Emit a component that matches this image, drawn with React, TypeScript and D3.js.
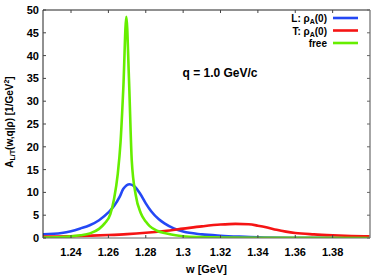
import React, { useEffect, useRef } from 'react';
import * as d3 from 'd3';

// energy points (GeV) and spectral function values (1/GeV^2)
const wBlue = [1.225, 1.235, 1.24, 1.245, 1.25, 1.255, 1.26, 1.263, 1.266, 1.268, 1.2714, 1.274, 1.277, 1.28, 1.283, 1.287, 1.29, 1.295, 1.3, 1.31, 1.32, 1.33, 1.34, 1.36, 1.38, 1.4];
const aBlue = [0.8, 1.1, 1.5, 2.1, 2.8, 3.9, 5.6, 7.0, 9.0, 10.8, 11.8, 11.3, 9.7, 7.6, 5.8, 4.1, 3.2, 2.1, 1.4, 0.8, 0.5, 0.3, 0.15, 0.05, 0.02, 0.0];

const wRed = [1.225, 1.25, 1.26, 1.27, 1.28, 1.29, 1.3, 1.31, 1.32, 1.328, 1.335, 1.34, 1.345, 1.35, 1.355, 1.36, 1.37, 1.38, 1.39, 1.4];
const aRed = [0.3, 0.5, 0.65, 0.85, 1.15, 1.55, 2.05, 2.55, 2.95, 3.1, 3.0, 2.7, 2.3, 1.8, 1.4, 1.1, 0.8, 0.6, 0.45, 0.35];

const wGreen = [1.225, 1.235, 1.24, 1.245, 1.25, 1.255, 1.258, 1.261, 1.263, 1.265, 1.2665, 1.268, 1.2696, 1.271, 1.2725, 1.2746, 1.2773, 1.28, 1.2821, 1.286, 1.2912, 1.296, 1.3, 1.31, 1.32, 1.34, 1.4];
const aGreen = [0.1, 0.2, 0.35, 0.6, 1.0, 2.0, 3.2, 5.2, 8.5, 14, 21, 33, 48.5, 35, 17, 9.5, 5.5, 3.6, 2.6, 1.6, 1.0, 0.6, 0.4, 0.2, 0.1, 0.05, 0.0];

const xTicks = [1.24, 1.26, 1.28, 1.3, 1.32, 1.34, 1.36, 1.38];
const yTicks = [0, 5, 10, 15, 20, 25, 30, 35, 40, 45, 50];

const series = [
  { key: 'L', w: wBlue, a: aBlue, color: '#2448f5' },
  { key: 'T', w: wRed, a: aRed, color: '#f51414' },
  { key: 'free', w: wGreen, a: aGreen, color: '#66ee00' },
];

const W = 382;
const H = 278;
const m = { left: 43, right: 12, top: 10, bottom: 40 };

export default function App() {
  const ref = useRef<SVGSVGElement | null>(null);

  useEffect(() => {
    const svg = d3.select(ref.current);
    svg.selectAll('*').remove();
    const font = 'Arial, "Liberation Sans", sans-serif';

    const x = d3.scaleLinear().domain([1.225, 1.4]).range([m.left, W - m.right]);
    const y = d3.scaleLinear().domain([0, 50]).range([H - m.bottom, m.top]);
    const [x0, x1] = x.range();
    const [y0, y1] = y.range();

    // clip curves to plot area
    svg.append('clipPath').attr('id', 'plot')
      .append('rect').attr('x', x0).attr('y', y1).attr('width', x1 - x0).attr('height', y0 - y1);

    const line = d3.line<[number, number]>()
      .x(d => x(d[0]))
      .y(d => y(d[1]))
      .curve(d3.curveMonotoneX);

    const g = svg.append('g').attr('clip-path', 'url(#plot)');
    series.forEach(s => {
      g.append('path')
        .attr('d', line(s.w.map((w, i) => [w, s.a[i]] as [number, number])))
        .attr('fill', 'none')
        .attr('stroke', s.color)
        .attr('stroke-width', 2.6)
        .attr('stroke-linejoin', 'round');
    });

    // frame
    svg.append('line').attr('x1', x0).attr('x2', x1).attr('y1', y1).attr('y2', y1).attr('stroke', '#222');
    svg.append('line').attr('x1', x0).attr('x2', x0).attr('y1', y1).attr('y2', y0).attr('stroke', '#222');
    svg.append('line').attr('x1', x1).attr('x2', x1).attr('y1', y1).attr('y2', y0).attr('stroke', '#888').attr('stroke-width', 1.5);
    svg.append('line').attr('x1', x0).attr('x2', x1).attr('y1', y0).attr('y2', y0).attr('stroke', '#666');

    // ticks (inward)
    xTicks.forEach(t => {
      svg.append('line').attr('x1', x(t)).attr('x2', x(t)).attr('y1', y0).attr('y2', y0 - 3).attr('stroke', '#444');
      svg.append('line').attr('x1', x(t)).attr('x2', x(t)).attr('y1', y1).attr('y2', y1 + 3).attr('stroke', '#444');
      svg.append('text')
        .attr('x', x(t)).attr('y', y0 + 18)
        .attr('text-anchor', 'middle')
        .attr('font-family', font).attr('font-weight', 'bold').attr('font-size', 11)
        .text(String(t));
    });
    yTicks.forEach(t => {
      svg.append('line').attr('x1', x0).attr('x2', x0 + 3).attr('y1', y(t)).attr('y2', y(t)).attr('stroke', '#444');
      svg.append('line').attr('x1', x1).attr('x2', x1 - 3).attr('y1', y(t)).attr('y2', y(t)).attr('stroke', '#666');
      svg.append('text')
        .attr('x', x0 - 4).attr('y', y(t) + 4)
        .attr('text-anchor', 'end')
        .attr('font-family', font).attr('font-weight', 'bold').attr('font-size', 11)
        .text(String(t));
    });

    // axis titles
    svg.append('text')
      .attr('x', (x0 + x1) / 2).attr('y', H - 5)
      .attr('text-anchor', 'middle')
      .attr('font-family', font).attr('font-weight', 'bold').attr('font-size', 11)
      .text('w [GeV]');

    const yl = svg.append('text')
      .attr('transform', `translate(13, ${(y0 + y1) / 2 - 2}) rotate(-90)`)
      .attr('text-anchor', 'middle')
      .attr('font-family', font).attr('font-weight', 'bold').attr('font-size', 10);
    yl.append('tspan').text('A');
    yl.append('tspan').attr('font-size', 7).attr('dy', 2).text('L/T');
    yl.append('tspan').attr('dy', -2).text('(w,q|ρ) [1/GeV');
    yl.append('tspan').attr('font-size', 7).attr('dy', -4).text('2');
    yl.append('tspan').attr('dy', 4).text(']');

    // annotation
    svg.append('text')
      .attr('x', 220).attr('y', 77)
      .attr('text-anchor', 'middle')
      .attr('font-family', font).attr('font-weight', 'bold').attr('font-size', 12)
      .text('q = 1.0 GeV/c');

    // legend
    const legendLabels = [
      ['L: ρ', 'A', '(0)'],
      ['T: ρ', 'A', '(0)'],
      ['free', '', ''],
    ];
    series.forEach((s, i) => {
      const ly = 18 + i * 12.5;
      const t = svg.append('text')
        .attr('x', 327).attr('y', ly + 4)
        .attr('text-anchor', 'end')
        .attr('font-family', font).attr('font-weight', 'bold').attr('font-size', 10);
      const [a, sub, b] = legendLabels[i];
      t.append('tspan').text(a);
      if (sub) {
        t.append('tspan').attr('font-size', 7).attr('dy', 2).text(sub);
        t.append('tspan').attr('dy', -2).text(b);
      }
      svg.append('line')
        .attr('x1', 333).attr('x2', 358).attr('y1', ly).attr('y2', ly)
        .attr('stroke', s.color).attr('stroke-width', 2.6);
    });
  }, []);

  return (
    <svg ref={ref} width={W} height={H}
      style={{ position: 'absolute', left: 0, top: 0, background: '#fff' }} />
  );
}
